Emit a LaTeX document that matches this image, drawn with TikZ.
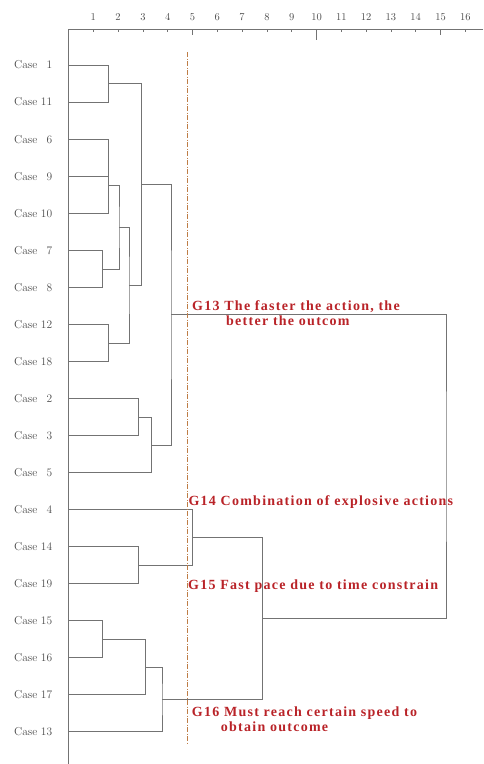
\documentclass[tikz,border=0pt]{standalone}
\usepackage{fontspec}
\newfontfamily\gfont[LetterSpace=9]{Liberation Serif}
\definecolor{lin}{RGB}{115,115,115}
\definecolor{txt}{RGB}{75,75,75}
\definecolor{gred}{RGB}{185,35,40}
\definecolor{cut}{RGB}{190,125,70}
\begin{document}
\begin{tikzpicture}[x=1pt,y=-1pt,
  dl/.style={draw=lin,line width=0.9pt},
  caselab/.style={anchor=west,inner sep=0pt,text=txt,font=\fontsize{11.5}{12}\selectfont},
  axlab/.style={inner sep=0pt,text=txt,font=\fontsize{10.5}{12}\selectfont},
  glab/.style={anchor=base west,inner sep=0pt,text=gred,font=\gfont\bfseries\fontsize{14}{15}\selectfont}]
\useasboundingbox (0,0) rectangle (483,764);
% axis
\coordinate (axL) at (68,29);
\coordinate (axR) at (483,29);
\coordinate (axB) at (68,764);
\draw[dl] (axR) -- (axL) -- (axB);
\foreach \n in {1,...,16}{
  \pgfmathsetmacro{\xx}{68.5+24.8*\n}
  \node[axlab] (ax\n) at (\xx,17) {\n};
  \coordinate (tk\n) at (\xx,29);
}
\foreach \n in {1,2,3,4,6,7,8,9,11,12,13,14,16}{\draw[dl,line width=0.7pt] (tk\n) -- ++(0,3);}
\foreach \n in {5,15}{\draw[dl,line width=0.7pt] (tk\n) -- ++(0,6);}
\draw[dl,line width=0.7pt] (tk10) -- ++(0,11);
% leaves
\foreach \c [count=\i from 0] in {1,11,6,9,10,7,8,12,18,2,3,5,4,14,19,15,16,17,13}{
  \pgfmathsetmacro{\yy}{65+37.04*\i}
  \coordinate (c\c) at (68,\yy);
  \node[caselab] (lab\c) at (14,\yy) {\makebox[38pt][l]{Case\hfill\c}};
}
% merge points
\coordinate (m111) at (108.3,83.5);
\coordinate (m6910) at (108.3,185.5);
\coordinate (m78) at (102.3,269.2);
\coordinate (mA) at (119,227.3);
\coordinate (m1218) at (108.3,343.2);
\coordinate (mB) at (129,285.2);
\coordinate (mC) at (141.7,184.5);
\coordinate (m23) at (138.3,417.5);
\coordinate (m235) at (151.7,445.1);
\coordinate (mD) at (171,314.8);
\coordinate (m1419) at (138.3,565.7);
\coordinate (m4) at (192.7,537.8);
\coordinate (m1516) at (102.3,639.7);
\coordinate (m17) at (145.7,667.3);
\coordinate (m13) at (162,699.5);
\coordinate (mE) at (262.3,618.7);
\coordinate (mF) at (446,466.7);
% dendrogram
\draw[dl] (c1) -| (m111) |- (c11);
\draw[dl] (c6) -| (m6910) |- (c10);
\draw[dl] (c9) -- (c9 -| m6910);
\draw[dl] (c7) -| (m78) |- (c8);
\draw[dl] (m6910) -| (mA) |- (m78);
\draw[dl] (c12) -| (m1218) |- (c18);
\draw[dl] (mA) -| (mB) |- (m1218);
\draw[dl] (m111) -| (mC) |- (mB);
\draw[dl] (c2) -| (m23) |- (c3);
\draw[dl] (m23) -| (m235) |- (c5);
\draw[dl] (mC) -| (mD) |- (m235);
\draw[dl] (c14) -| (m1419) |- (c19);
\draw[dl] (c4) -| (m4) |- (m1419);
\draw[dl] (c15) -| (m1516) |- (c16);
\draw[dl] (m1516) -| (m17) |- (c17);
\draw[dl] (m17) -| (m13) |- (c13);
\draw[dl] (m4) -| (mE) |- (m13);
\draw[dl] (mD) -| (mF) |- (mE);
% cut line
\coordinate (cutT) at (187,52);
\coordinate (cutB) at (187,743);
\draw[cut,line width=1pt,dash pattern=on 5pt off 1.5pt on 1pt off 1.5pt] (cutT) -- (cutB);
% labels
\node[glab] (g13a) at (192,310.7) {G13 The faster the action, the};
\node[glab] (g13b) at (226,325.7) {better the outcom};
\node[glab] (g14) at (188.3,505) {G14 Combination of explosive actions};
\node[glab] (g15) at (188,589) {G15 Fast pace due to time constrain};
\node[glab] (g16a) at (191.7,716) {G16 Must reach certain speed to};
\node[glab] (g16b) at (220.7,731) {obtain outcome};
\end{tikzpicture}
\end{document}
